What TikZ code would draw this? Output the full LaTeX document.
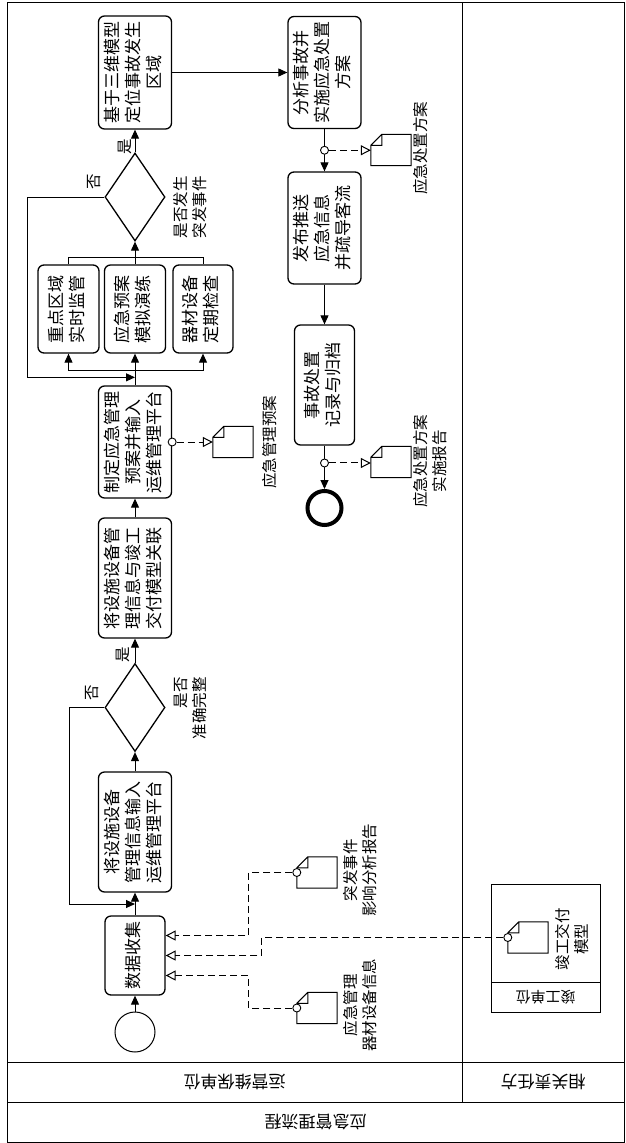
\documentclass[tikz,border=0pt]{standalone}
\usepackage{fontspec}
\setmainfont{Noto Sans CJK SC}
\usepackage{graphicx}
\usetikzlibrary{shapes.geometric,arrows.meta,calc}
\pgfkeys{tikz/mylane/.style={draw,line width=1pt,inner sep=0pt,font=\fontsize{17pt}{20pt}\selectfont}}
\pgfkeys{tikz/mytask/.style={draw,line width=1.3pt,rounded corners=6pt,inner sep=0pt,font=\fontsize{17pt}{21pt}\selectfont}}
\pgfkeys{tikz/mygate/.style={diamond,draw,line width=1.3pt,inner sep=0pt,minimum width=60pt,minimum height=88pt}}
\pgfkeys{tikz/mylabel/.style={inner sep=0pt,font=\fontsize{15.5pt}{19pt}\selectfont}}
\pgfkeys{tikz/myflow/.style={line width=1pt,-{Triangle[length=9pt,width=8pt]}}}
\pgfkeys{tikz/myassoc/.style={line width=1pt,dash pattern=on 7pt off 4pt,-{Triangle[open,length=10pt,width=10pt]}}}
\pgfkeys{tikz/mydot/.style={circle,draw,fill=white,line width=0.9pt,minimum size=8pt,inner sep=0pt}}
\pgfkeys{tikz/mydoc/.style={minimum width=40pt,minimum height=31pt,inner sep=0pt}}
\newcommand*\vtxt[2][c]{\rotatebox{90}{\begin{tabular}{@{}#1@{}}#2\end{tabular}}}
\newcommand*\mydataobj[3]{%
  \node [mydoc] (#1) at (#2,#3) {};
  \draw [line width=1pt] (#1.south west) -- (#1.south east) -- (#1.north east)
    -- ([xshift=11pt]#1.north west) -- ([yshift=-11pt]#1.north west) -- cycle
    ([xshift=11pt]#1.north west) |- ([yshift=-11pt]#1.north west);
}

\begin{document}
\begin{tikzpicture}[x=1pt,y=-1pt]
\fill [white] (0,0) rectangle (625,1143);
\useasboundingbox (0,0) rectangle (625,1143);

% pool and lanes
\node [mylane, minimum width=455pt, minimum height=1060pt] (laneA) at (234.5,532) {};
\node [mylane, minimum width=162pt, minimum height=1060pt] (laneB) at (543,532) {};
\node [mylane, minimum width=455pt, minimum height=40pt, rotate=180] (headA) at (234.5,1082) {运营维保单位};
\node [mylane, minimum width=162pt, minimum height=40pt, rotate=180] (headB) at (543,1082) {相关责任方};
\node [mylane, minimum width=617pt, minimum height=40pt, rotate=180] (pool) at (315.5,1122) {应急管理流程};
\node [mylane, minimum width=109pt, minimum height=98pt] (grpBody) at (545.5,933) {};
\node [mylane, minimum width=109pt, minimum height=30pt, rotate=180, font=\fontsize{15pt}{18pt}\selectfont] (grpHead) at (545.5,997) {竣工单位};

% tasks and gates
\node [circle, draw, line width=1pt, minimum size=40pt] (start) at (135,1032) {};
\node [mytask, minimum width=60pt, minimum height=79pt] (collect) at (135,955.5) {\vtxt{数据收集}};
\node [mytask, minimum width=73pt, minimum height=120pt] (input) at (135,832) {\vtxt{将设施设备\\管理信息输入\\运维管理平台}};
\node [mygate] (check1) at (135,707.5) {};
\node [mylabel] (check1lbl) at (192,708) {\vtxt[r]{是否\\准确完整}};
\node [mytask, minimum width=73pt, minimum height=120pt] (link) at (135,578) {\vtxt{将设施设备管\\理信息与竣工\\交付模型关联}};
\node [mytask, minimum width=73pt, minimum height=112pt] (plan) at (135,442) {\vtxt{制定应急管理\\预案并输入\\运维管理平台}};
\node [mytask, minimum width=61pt, minimum height=88pt] (monitor) at (68.5,309) {\vtxt{重点区域\\实时监管}};
\node [mytask, minimum width=61pt, minimum height=88pt] (drill) at (135,309) {\vtxt{应急预案\\模拟演练}};
\node [mytask, minimum width=60pt, minimum height=88pt] (inspect) at (203,309) {\vtxt{器材设备\\定期检查}};
\node [mygate] (check2) at (135,197) {};
\node [mylabel] (check2lbl) at (192,207) {\vtxt[r]{是否发生\\突发事件}};
\node [mytask, minimum width=73pt, minimum height=113pt] (locate) at (135,72.5) {\vtxt{基于三维模型\\定位事故发生\\区域}};
\node [mytask, minimum width=73pt, minimum height=112pt] (analyse) at (324.5,72.5) {\vtxt{分析事故并\\实施应急处置\\方案}};
\node [mytask, minimum width=73pt, minimum height=112pt] (publish) at (324.5,228) {\vtxt{发布推送\\应急信息\\并疏导客流}};
\node [mytask, minimum width=60pt, minimum height=120pt] (record) at (324.5,385) {\vtxt{事故处置\\记录与归档}};
\node [circle, draw, line width=4pt, minimum size=34pt] (end) at (324.5,508) {};

% gate labels
\node [mylabel] (yes1) at (123,655) {\rotatebox{90}{是}};
\node [mylabel] (no1) at (92,693) {\rotatebox{90}{否}};
\node [mylabel] (yes2) at (125,147) {\rotatebox{90}{是}};
\node [mylabel] (no2) at (94,182) {\rotatebox{90}{否}};

% data objects
\mydataobj{docPlan}{233}{442}
\mydataobj{docScheme}{391}{150}
\mydataobj{docReport}{391}{462}
\mydataobj{docImpact}{317}{872.5}
\mydataobj{docEquip}{317}{1008}
\mydataobj{docModel}{528}{937.5}
\node [mylabel] (lblPlan) at (272,442) {\vtxt{应急管理预案}};
\node [mylabel] (lblScheme) at (423,148) {\vtxt{应急处置方案}};
\node [mylabel] (lblReport) at (432,461) {\vtxt{应急处置方案\\实施报告}};
\node [mylabel] (lblImpact) at (362,870) {\vtxt{突发事件\\影响分析报告}};
\node [mylabel] (lblEquip) at (362,1005) {\vtxt{应急管理\\器材设备信息}};
\node [mylabel] (lblModel) at (574,939) {\vtxt{竣工交付\\模型}};

% sequence flow
\draw [myflow] (start) -- (collect);
\draw [myflow] (collect) -- (input);
\draw [myflow] (input) -- (check1);
\draw [myflow] (check1) -- (link);
\draw [myflow] (link) -- (plan);
\coordinate (join1) at ($(collect.north)!0.5!(input.south)$);
\draw [myflow] (check1.west) -- ++(-35,0) |- (join1);
\draw [line width=1pt] (plan.north) -- ++(0,-15) coordinate (join2);
\foreach \t in {monitor,drill,inspect} \draw [myflow] (join2) -| (\t.south);
\coordinate (join3) at ($(plan.north)+(0,-8)$);
\draw [myflow] (check2.west) -- ++(-77,0) |- (join3);
\coordinate (join4) at ($(drill.north)+(0,-7)$);
\foreach \t in {monitor,drill,inspect} \draw [line width=1pt] (\t.north) |- (join4);
\draw [myflow] (join4) -- (check2);
\draw [myflow] (check2) -- (locate);
\draw [myflow] (locate) -- (analyse);
\draw [myflow] (analyse) -- (publish);
\draw [myflow] (publish) -- (record);
\draw [myflow] (record) -- (end);

% associations
\node [mydot] (dotA) at ($(analyse.south)!0.5!(publish.north)$) {};
\node [mydot] (dotB) at ($(record.south)!0.4!(end.north)$) {};
\node [mydot] (dotC) at (plan.east) {};
\node [mydot] (dotD) at (docImpact.west) {};
\node [mydot] (dotE) at (docModel.west) {};
\node [mydot] (dotF) at (docEquip.west) {};
\draw [myassoc] (dotA) -- (dotA -| docScheme.west);
\draw [myassoc] (dotB) -- (dotB -| docReport.west);
\draw [myassoc] (dotC) -- (dotC -| docPlan.west);
\draw [myassoc] (dotD) -- ++(-48,0) |- ([yshift=20pt]collect.east);
\draw [myassoc] (dotE) -- ++(-246,0) |- (collect.east);
\draw [myassoc] (dotF) -- ++(-48,0) |- ([yshift=-20pt]collect.east);

\end{tikzpicture}
\end{document}
